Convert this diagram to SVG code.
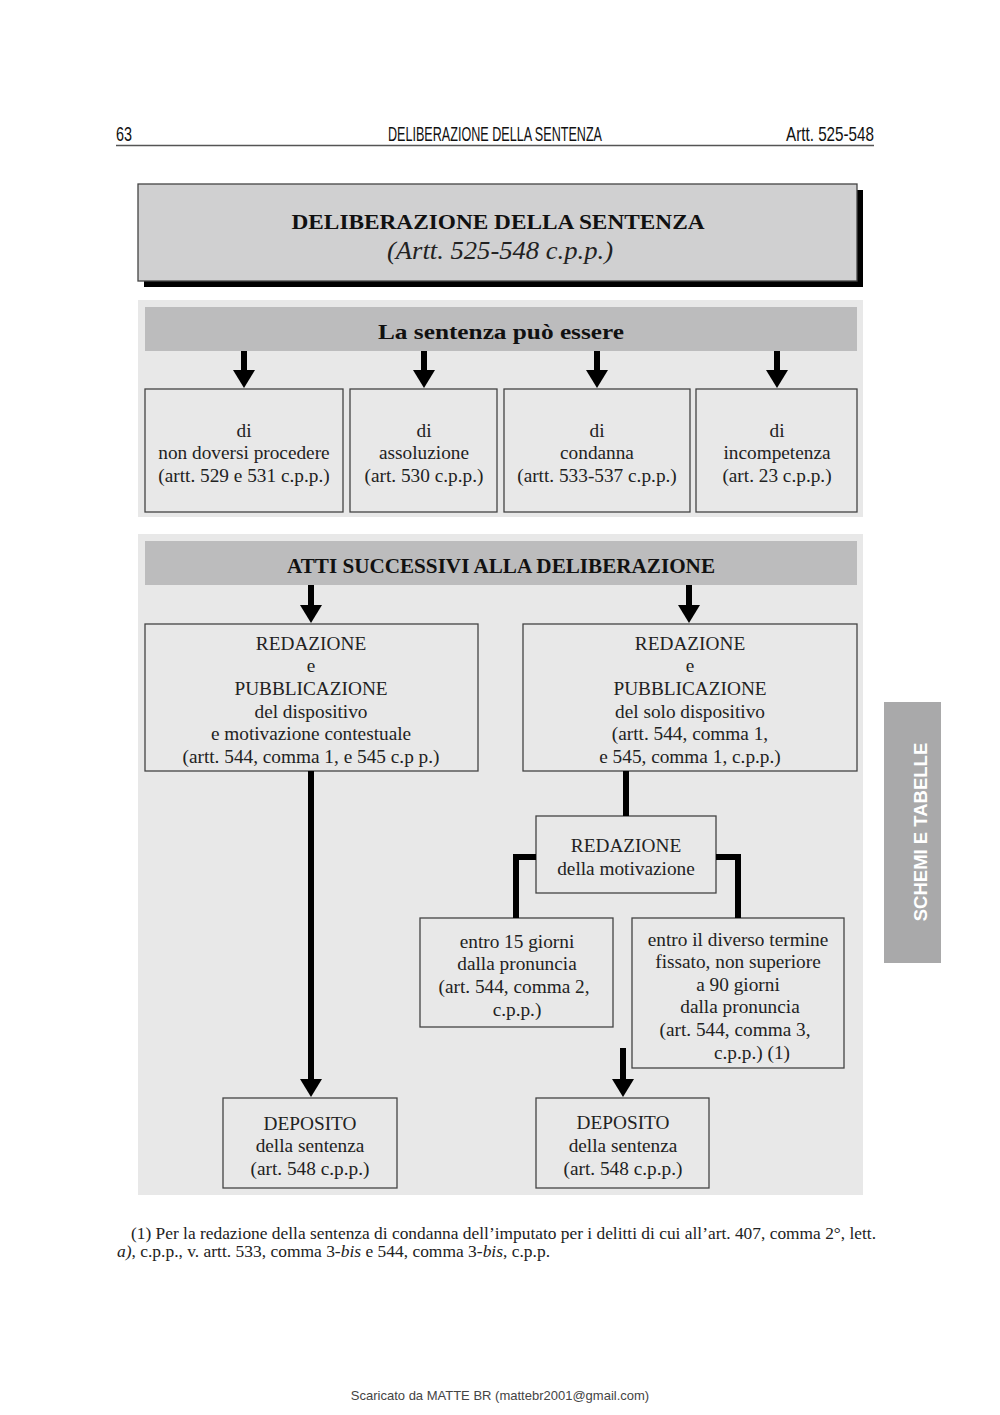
<svg xmlns="http://www.w3.org/2000/svg" width="1000" height="1415" viewBox="0 0 1000 1415">
<style>
.t{font-family:"Liberation Serif",serif;font-size:19.3px;fill:#222;text-anchor:middle}
.box{fill:#e8e8e8;stroke:#444;stroke-width:1.3}
.panel{fill:#e8e8e8}
.bar{fill:#bcbcbd}
.hd{font-family:"Liberation Serif",serif;font-weight:bold;font-size:21px;fill:#111;text-anchor:middle}
.cx{font-family:"Liberation Sans",sans-serif;font-size:21px;fill:#111}
.conn{stroke:#000;stroke-width:6;fill:none}
.fn{font-family:"Liberation Serif",serif;font-size:17px;fill:#222}
</style>
<defs>
<marker id="ah" viewBox="0 0 18 22" refX="0" refY="11" markerWidth="18" markerHeight="22" markerUnits="userSpaceOnUse" orient="auto">
<path d="M0,0 L18,11 L0,22 Z" fill="#000"/>
</marker>
</defs>
<rect width="1000" height="1415" fill="#fff"/>
<!-- page header -->
<text class="cx" x="116" y="141" textLength="16" lengthAdjust="spacingAndGlyphs">63</text>
<text class="cx" x="388" y="141" textLength="214" lengthAdjust="spacingAndGlyphs">DELIBERAZIONE DELLA SENTENZA</text>
<text class="cx" x="786" y="141" textLength="88" lengthAdjust="spacingAndGlyphs">Artt. 525-548</text>
<line x1="116" y1="145.5" x2="874" y2="145.5" stroke="#555" stroke-width="1.5"/>

<!-- title -->
<g id="title">
<rect x="144" y="190" width="719" height="97" fill="#000"/>
<rect x="138" y="184" width="719" height="97" fill="#d0d0d1" stroke="#444" stroke-width="1.3"/>
<text class="hd" x="498" y="229" font-size="22" textLength="413" lengthAdjust="spacingAndGlyphs">DELIBERAZIONE DELLA SENTENZA</text>
<text x="500" y="259" font-family="'Liberation Serif',serif" font-style="italic" font-size="26" fill="#222" text-anchor="middle" textLength="226" lengthAdjust="spacingAndGlyphs">(Artt. 525-548 c.p.p.)</text>
</g>

<!-- panel 1 -->
<rect class="panel" x="138" y="300" width="725" height="217"/>
<g id="hdr1">
<rect class="bar" x="145" y="307" width="712" height="44"/>
<text class="hd" x="501" y="339" textLength="246" lengthAdjust="spacingAndGlyphs">La sentenza può essere</text>
</g>
<g id="b1"><rect class="box" x="145" y="389" width="198" height="123"/>
<text class="t" x="244" y="437">di</text><text class="t" x="244" y="459">non doversi procedere</text><text class="t" x="244" y="482">(artt. 529 e 531 c.p.p.)</text></g>
<g id="b2"><rect class="box" x="350" y="389" width="147" height="123"/>
<text class="t" x="424" y="437">di</text><text class="t" x="424" y="459">assoluzione</text><text class="t" x="424" y="482">(art. 530 c.p.p.)</text></g>
<g id="b3"><rect class="box" x="504" y="389" width="186" height="123"/>
<text class="t" x="597" y="437">di</text><text class="t" x="597" y="459">condanna</text><text class="t" x="597" y="482">(artt. 533-537 c.p.p.)</text></g>
<g id="b4"><rect class="box" x="696" y="389" width="161" height="123"/>
<text class="t" x="777" y="437">di</text><text class="t" x="777" y="459">incompetenza</text><text class="t" x="777" y="482">(art. 23 c.p.p.)</text></g>

<!-- panel 2 -->
<rect class="panel" x="138" y="534" width="725" height="661"/>
<g id="hdr2">
<rect class="bar" x="145" y="541" width="712" height="44"/>
<text class="hd" x="501" y="573" textLength="428" lengthAdjust="spacingAndGlyphs">ATTI SUCCESSIVI ALLA DELIBERAZIONE</text>
</g>
<g id="redL"><rect class="box" x="145" y="624" width="333" height="147"/>
<text class="t" x="311" y="650">REDAZIONE</text><text class="t" x="311" y="672">e</text><text class="t" x="311" y="695">PUBBLICAZIONE</text><text class="t" x="311" y="718">del dispositivo</text><text class="t" x="311" y="740">e motivazione contestuale</text><text class="t" x="311" y="763">(artt. 544, comma 1, e 545 c.p p.)</text></g>
<g id="redR"><rect class="box" x="523" y="624" width="334" height="147"/>
<text class="t" x="690" y="650">REDAZIONE</text><text class="t" x="690" y="672">e</text><text class="t" x="690" y="695">PUBBLICAZIONE</text><text class="t" x="690" y="718">del solo dispositivo</text><text class="t" x="690" y="740">(artt. 544, comma 1,</text><text class="t" x="690" y="763">e 545, comma 1, c.p.p.)</text></g>
<g id="mot"><rect class="box" x="536" y="816" width="180" height="77"/>
<text class="t" x="626" y="852">REDAZIONE</text><text class="t" x="626" y="875">della motivazione</text></g>
<g id="t15"><rect class="box" x="420" y="918" width="193" height="109"/>
<text class="t" x="517" y="948">entro 15 giorni</text><text class="t" x="517" y="970">dalla pronuncia</text><text class="t" x="514" y="993">(art. 544, comma 2,</text><text class="t" x="517" y="1016">c.p.p.)</text></g>
<g id="t90"><rect class="box" x="632" y="918" width="212" height="150"/>
<text class="t" x="738" y="946">entro il diverso termine</text><text class="t" x="738" y="968">fissato, non superiore</text><text class="t" x="738" y="991">a 90 giorni</text><text class="t" x="740" y="1013">dalla pronuncia</text><text class="t" x="735" y="1036">(art. 544, comma 3,</text><text class="t" x="752" y="1059">c.p.p.) (1)</text></g>
<g id="depL"><rect class="box" x="223" y="1098" width="174" height="90"/>
<text class="t" x="310" y="1130">DEPOSITO</text><text class="t" x="310" y="1152">della sentenza</text><text class="t" x="310" y="1175">(art. 548 c.p.p.)</text></g>
<g id="depR"><rect class="box" x="536" y="1098" width="173" height="90"/>
<text class="t" x="623" y="1129">DEPOSITO</text><text class="t" x="623" y="1152">della sentenza</text><text class="t" x="623" y="1175">(art. 548 c.p.p.)</text></g>

<!-- connectors -->
<g id="connectors">
<line class="conn" x1="244" y1="351" x2="244" y2="370" marker-end="url(#ah)"/>
<line class="conn" x1="424" y1="351" x2="424" y2="370" marker-end="url(#ah)"/>
<line class="conn" x1="597" y1="351" x2="597" y2="370" marker-end="url(#ah)"/>
<line class="conn" x1="777" y1="351" x2="777" y2="370" marker-end="url(#ah)"/>
<line class="conn" x1="311" y1="585" x2="311" y2="605" marker-end="url(#ah)"/>
<line class="conn" x1="689" y1="585" x2="689" y2="605" marker-end="url(#ah)"/>
<line class="conn" x1="311" y1="771" x2="311" y2="1079" marker-end="url(#ah)"/>
<line class="conn" x1="626" y1="771" x2="626" y2="816"/>
<polyline class="conn" points="536,857 516,857 516,918"/>
<polyline class="conn" points="716,857 738,857 738,918"/>
<line class="conn" x1="623" y1="1048" x2="623" y2="1079" marker-end="url(#ah)"/>
</g>

<!-- side tab -->
<rect x="884" y="702" width="57" height="261" fill="#a9a9aa"/>
<text x="927" y="832" transform="rotate(-90 927 832)" font-family="'Liberation Sans',sans-serif" font-weight="bold" font-size="18.5" fill="#fff" text-anchor="middle">SCHEMI E TABELLE</text>

<!-- footnote -->
<text class="fn" x="131" y="1239" textLength="745" lengthAdjust="spacingAndGlyphs">(1) Per la redazione della sentenza di condanna dell’imputato per i delitti di cui all’art. 407, comma 2°, lett.</text>
<text class="fn" x="117" y="1257" textLength="433" lengthAdjust="spacingAndGlyphs"><tspan font-style="italic">a)</tspan>, c.p.p., v. artt. 533, comma 3-<tspan font-style="italic">bis</tspan> e 544, comma 3-<tspan font-style="italic">bis</tspan>, c.p.p.</text>

<text x="500" y="1400" font-family="'Liberation Sans',sans-serif" font-size="13" fill="#444" text-anchor="middle">Scaricato da MATTE BR (mattebr2001@gmail.com)</text>
</svg>
